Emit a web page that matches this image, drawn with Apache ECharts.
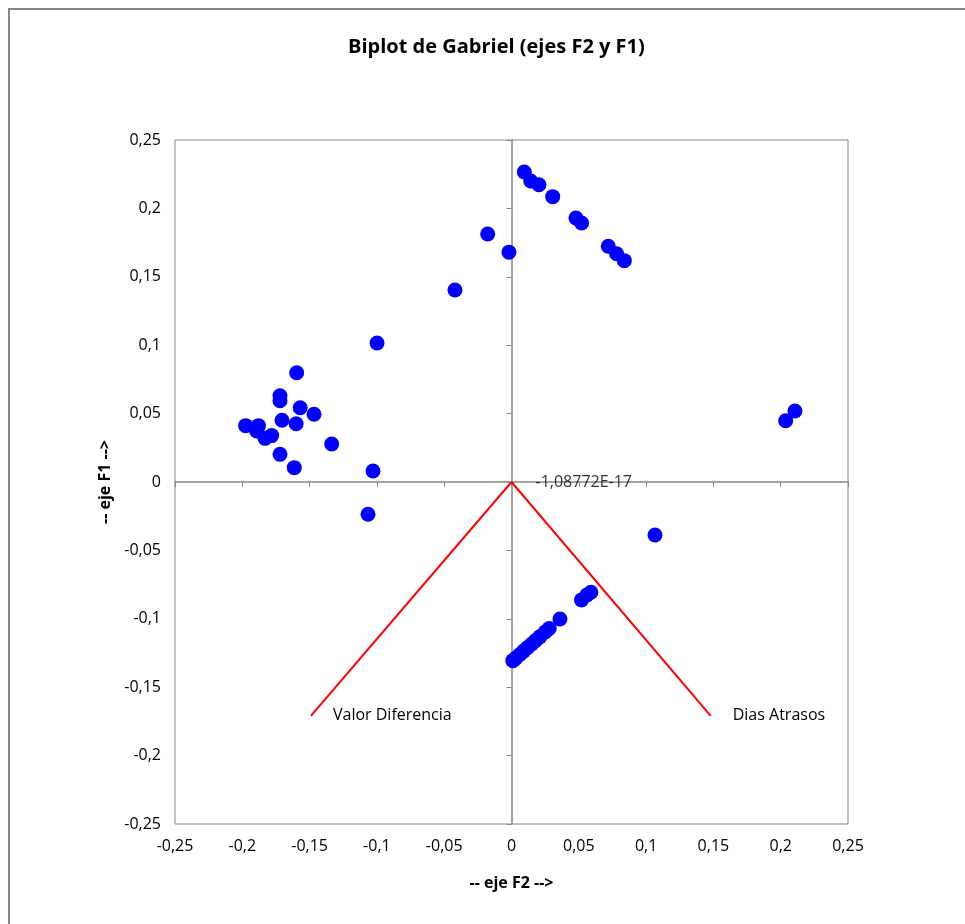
<!DOCTYPE html>
<html>
<head>
<meta charset="utf-8">
<script src="https://cdn.jsdelivr.net/npm/echarts@6/dist/echarts.min.js"></script>
<style>
html,body{margin:0;padding:0;background:#fff;}
#c{width:965px;height:924px;}
</style>
</head>
<body>
<div id="c"></div>
<script>
// Observations (F2, F1)
const obsF2 = [-0.1596,-0.172,-0.172,-0.157,-0.1467,-0.1705,-0.160,-0.1975,-0.188,-0.1893,-0.1831,-0.1782,-0.1336,-0.172,-0.1614,-0.1029,-0.1066,
  -0.0999,-0.042,-0.0177,-0.0019,0.0095,0.0143,0.0204,0.0306,0.0479,0.0521,0.0719,0.0781,0.0838,
  0.2037,0.2106,0.1066,
  0.001,0.003,0.006,0.009,0.012,0.015,0.018,0.021,0.025,0.028,0.036,0.052,0.056,0.059];
const obsF1 = [0.0799,0.063,0.0594,0.0543,0.0495,0.0451,0.0426,0.0412,0.0412,0.0373,0.0319,0.0339,0.0278,0.0202,0.0105,0.0080,-0.0236,
  0.1016,0.1404,0.1813,0.168,0.2266,0.220,0.2173,0.2086,0.193,0.1893,0.1723,0.1669,0.1618,
  0.0448,0.0519,-0.0387,
  -0.1306,-0.1289,-0.1263,-0.1236,-0.1210,-0.1184,-0.1158,-0.1132,-0.1097,-0.1071,-0.1001,-0.0862,-0.0826,-0.0806];
// Variable vectors
const varNames = ['Valor Diferencia','Dias Atrasos'];
const varF2 = [-0.149, 0.148];
const varF1 = [-0.171, -0.171];
const originLabel = '-1,08772E-17';
const axisTicks = [-0.25,-0.2,-0.15,-0.1,-0.05,0,0.05,0.1,0.15,0.2,0.25];

const fmt = v => String(Math.round(v*1000)/1000).replace('.', ',');
const FONT = '"Open Sans", Lato, sans-serif';
const GRAY = '#868686';

const points = obsF2.map((x,i)=>[x, obsF1[i]]);
const vecSeries = varNames.map((n,i)=>({
  type:'line', data:[[0,0],{value:[varF2[i],varF1[i]], label:{show:true, formatter:n, position:'right', distance:22, color:'#000', fontSize:16, fontFamily:FONT}}],
  symbol:'circle', symbolSize:0, lineStyle:{color:'#ff0000', width:2}, z:3, silent:true,
  label:{show:false}
}));

const chart = echarts.init(document.getElementById('c'));
chart.setOption({
  animation:false,
  backgroundColor:'#fff',
  title:{text:'Biplot de Gabriel (ejes F2 y F1)', left:343, top:32,
    textStyle:{fontSize:20, fontWeight:'bold', color:'#000', fontFamily:FONT}},
  graphic:[{type:'rect', shape:{x:9, y:9, width:1000, height:1000}, style:{fill:'none', stroke:GRAY, lineWidth:2}, silent:true}],
  grid:{left:175, right:117, top:140, bottom:100, show:true, borderColor:GRAY, borderWidth:1},
  xAxis:[
    {type:'value', min:-0.25, max:0.25, interval:0.05, position:'bottom',
     axisLine:{show:false, onZero:false}, axisTick:{show:false}, splitLine:{show:false},
     axisLabel:{formatter:fmt, color:'#000', fontSize:16, fontFamily:FONT, margin:14},
     name:'-- eje F2 -->', nameLocation:'middle', nameGap:51,
     nameTextStyle:{fontWeight:'bold', fontSize:16, color:'#000', fontFamily:FONT}},
    {type:'value', min:-0.25, max:0.25, interval:0.05, position:'bottom',
     axisLine:{show:true, onZero:true, onZeroAxisIndex:0, lineStyle:{color:GRAY, width:1.5}},
     axisTick:{show:true, length:5, lineStyle:{color:GRAY}}, axisLabel:{show:false}, splitLine:{show:false}}
  ],
  yAxis:[
    {type:'value', min:-0.25, max:0.25, interval:0.05, position:'left',
     axisLine:{show:false, onZero:false}, axisTick:{show:false}, splitLine:{show:false},
     axisLabel:{formatter:fmt, color:'#000', fontSize:16, fontFamily:FONT, margin:14},
     name:'-- eje F1 -->', nameLocation:'middle', nameGap:60, nameRotate:90,
     nameTextStyle:{fontWeight:'bold', fontSize:16, color:'#000', fontFamily:FONT}},
    {type:'value', min:-0.25, max:0.25, interval:0.05, position:'left',
     axisLine:{show:true, onZero:true, onZeroAxisIndex:0, lineStyle:{color:GRAY, width:1.5}},
     axisTick:{show:true, length:5, lineStyle:{color:GRAY}}, axisLabel:{show:false}, splitLine:{show:false}}
  ],
  series:[
    ...vecSeries,
    {type:'scatter', data:[[0,0]], symbolSize:0, z:4,
     label:{show:true, formatter:originLabel, position:'right', distance:24, color:'#000', fontSize:16, fontFamily:FONT}},
    {type:'scatter', data:points, symbol:'circle', symbolSize:15, itemStyle:{color:'#0000ff', opacity:1}, z:5}
  ]
});
</script>
</body>
</html>
